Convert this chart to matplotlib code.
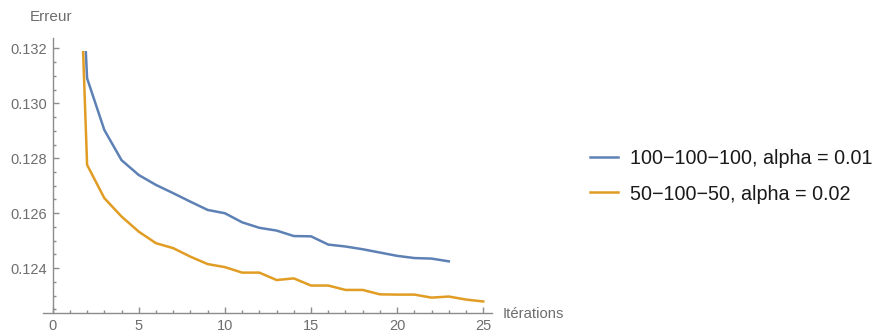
import matplotlib
matplotlib.use("Agg")
import matplotlib.pyplot as plt
from matplotlib.patches import Rectangle
from matplotlib.lines import Line2D
from matplotlib.ticker import MultipleLocator, FormatStrFormatter

plt.rcParams['font.family'] = ['Liberation Sans', 'DejaVu Sans']

# Training error per iteration for two network configurations
iters_a = list(range(1, 24))
err_a = [0.1440, 0.13091, 0.12903, 0.12793, 0.12739, 0.12703, 0.12673, 0.12642,
         0.12612, 0.12600, 0.12567, 0.12547, 0.12537, 0.12517, 0.12516, 0.12486,
         0.12479, 0.12469, 0.12457, 0.12445, 0.12437, 0.12435, 0.12425]

iters_b = list(range(1, 26))
err_b = [0.1456, 0.12776, 0.12655, 0.12588, 0.12533, 0.12491, 0.12473, 0.12442,
         0.12415, 0.12404, 0.12384, 0.12384, 0.12357, 0.12363, 0.12337, 0.12337,
         0.12321, 0.12321, 0.12305, 0.12304, 0.12304, 0.12293, 0.12297, 0.12286,
         0.12279]

label_a = "100\u2212100\u2212100, alpha = 0.01"
label_b = "50\u2212100\u221250, alpha = 0.02"

x_ticks = [0, 5, 10, 15, 20, 25]
y_ticks = [0.124, 0.126, 0.128, 0.130, 0.132]

blue = "#5E81B5"
orange = "#E19C24"
axis_gray = "#8c8c8c"
text_gray = "#6e6e6e"

W, H = 875, 334
fig = plt.figure(figsize=(W / 100, H / 100), dpi=100)
ax = fig.add_axes([43 / W, (H - 313.3) / H, (491.7 - 43) / W, (313.3 - 38) / H])

xmin, xmax = -0.56, 25.49
ymin, ymax = 0.12236, 0.132375
clip_top = 0.1319

ax.set_xlim(xmin, xmax)
ax.set_ylim(ymin, ymax)

series = [(iters_a, err_a, blue, label_a), (iters_b, err_b, orange, label_b)]
for xs, ys, c, lab in series:
    line, = ax.plot(xs, ys, color=c, lw=1.8, solid_joinstyle='round')
    line.set_clip_path(Rectangle((xmin, ymin), xmax - xmin, clip_top - ymin,
                                 transform=ax.transData))

for s in ['top', 'right']:
    ax.spines[s].set_visible(False)
ax.spines['left'].set_position(('data', 0))
for s in ['left', 'bottom']:
    ax.spines[s].set_color(axis_gray)
    ax.spines[s].set_linewidth(1.0)

ax.set_xticks(x_ticks)
ax.set_yticks(y_ticks)
ax.xaxis.set_minor_locator(MultipleLocator(1))
ax.yaxis.set_minor_locator(MultipleLocator(0.0005))
ax.yaxis.set_major_formatter(FormatStrFormatter('%.3f'))
ax.tick_params(which='both', direction='in', color=axis_gray, width=1.0,
               labelcolor=text_gray, labelsize=10.5)
ax.tick_params(which='major', length=4.5)
ax.tick_params(which='minor', length=2.5)
ax.tick_params(axis='y', pad=4)
ax.tick_params(axis='x', pad=4)

fig.text(30 / W, (H - 17) / H, "Erreur", color=text_gray, fontsize=11,
         ha='left', va='center')
fig.text(503 / W, (H - 313.5) / H, "Itérations", color=text_gray, fontsize=10.7,
         ha='left', va='center')

# Legend entries: short line sample followed by the series name
for (xs, ys, c, lab), ypx in zip(series, [157, 192]):
    yf = (H - ypx) / H
    fig.add_artist(Line2D([590 / W, 618 / W], [yf, yf], color=c, lw=1.8,
                          transform=fig.transFigure))
    fig.text(630 / W, yf, lab, color="#1a1a1a", fontsize=14.2,
             ha='left', va='center_baseline')

fig.savefig("out.png", dpi=100)
